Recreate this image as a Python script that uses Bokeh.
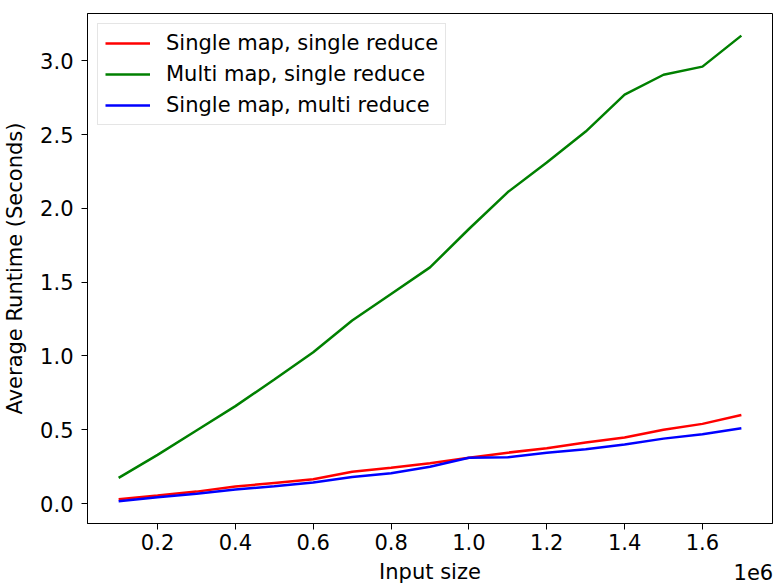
from bokeh.plotting import figure
from bokeh.models import (FixedTicker, PrintfTickFormatter, CustomJSTickFormatter, Range1d,
                          Legend, LegendItem, LinearAxis)
from bokeh.embed import file_html
from bokeh.resources import INLINE

input_size = [100000, 200000, 300000, 400000, 500000, 600000, 700000, 800000, 900000,
              1000000, 1100000, 1200000, 1300000, 1400000, 1500000, 1600000, 1700000]
single_map_single_reduce = [0.030, 0.054, 0.081, 0.115, 0.140, 0.165, 0.215, 0.242, 0.273,
                            0.310, 0.345, 0.375, 0.413, 0.447, 0.500, 0.540, 0.600]
multi_map_single_reduce = [0.174, 0.330, 0.495, 0.660, 0.840, 1.025, 1.240, 1.420, 1.600,
                           1.860, 2.110, 2.310, 2.520, 2.770, 2.905, 2.960, 3.170]
single_map_multi_reduce = [0.016, 0.043, 0.066, 0.095, 0.117, 0.142, 0.180, 0.205, 0.250,
                           0.310, 0.314, 0.345, 0.368, 0.400, 0.440, 0.470, 0.510]

x_ticks = [200000, 400000, 600000, 800000, 1000000, 1200000, 1400000, 1600000]
y_ticks = [0.0, 0.5, 1.0, 1.5, 2.0, 2.5, 3.0]
offset_text = "1e6"
offset_pos = [1731000]

FONT = "DejaVu Sans"
FS = "21px"

p = figure(width=775, height=587, output_backend="svg", toolbar_location=None,
           x_range=Range1d(20000, 1780000), y_range=Range1d(-0.135, 3.32),
           min_border_left=87, min_border_right=3, min_border_top=13, min_border_bottom=64)

p.background_fill_color = "white"
p.border_fill_color = "white"
p.outline_line_color = "black"
p.outline_line_width = 1
p.xgrid.visible = False
p.ygrid.visible = False

r1 = p.line(input_size, single_map_single_reduce, line_color="red", line_width=2.5)
r2 = p.line(input_size, multi_map_single_reduce, line_color="green", line_width=2.5)
r3 = p.line(input_size, single_map_multi_reduce, line_color="blue", line_width=2.5)

legend = Legend(items=[
    LegendItem(label="Single map, single reduce", renderers=[r1]),
    LegendItem(label="Multi map, single reduce", renderers=[r2]),
    LegendItem(label="Single map, multi reduce", renderers=[r3]),
], location="top_left")
legend.margin = 10
legend.padding = 7
legend.spacing = 7
legend.glyph_width = 45
legend.glyph_height = 22
legend.label_standoff = 16
legend.label_text_font = FONT
legend.label_text_font_size = FS
legend.label_text_color = "black"
legend.border_line_color = "#cccccc"
legend.border_line_width = 1
legend.background_fill_color = "white"
legend.background_fill_alpha = 0.8
p.add_layout(legend)

for ax in (p.xaxis[0], p.yaxis[0]):
    ax.axis_line_color = "black"
    ax.major_tick_line_color = "black"
    ax.major_tick_out = 6
    ax.major_tick_in = 0
    ax.minor_tick_line_color = None
    ax.major_label_text_font = FONT
    ax.major_label_text_font_size = FS
    ax.major_label_text_color = "black"
    ax.axis_label_text_font = FONT
    ax.axis_label_text_font_size = FS
    ax.axis_label_text_font_style = "normal"
    ax.axis_label_text_color = "black"

p.xaxis.ticker = FixedTicker(ticks=x_ticks)
p.xaxis.formatter = CustomJSTickFormatter(code="return (tick/1e6).toFixed(1);")
p.xaxis.major_label_standoff = 4

p.yaxis.ticker = FixedTicker(ticks=y_ticks)
p.yaxis.formatter = PrintfTickFormatter(format="%.1f")
p.yaxis.axis_label = "Average Runtime (Seconds)"
p.yaxis.major_label_standoff = 8
p.yaxis.axis_label_standoff = 10

# second axis below: carries the "1e6" offset text and the "Input size" label on one row
ax2 = LinearAxis(ticker=FixedTicker(ticks=offset_pos), axis_line_color=None,
                 major_tick_line_color=None, minor_tick_line_color=None,
                 major_tick_out=0, major_tick_in=0, major_label_standoff=11,
                 formatter=CustomJSTickFormatter(code="return '%s';" % offset_text),
                 major_label_text_font=FONT, major_label_text_font_size=FS,
                 major_label_text_color="black",
                 axis_label="Input size", axis_label_standoff=-23,
                 axis_label_text_font=FONT, axis_label_text_font_size=FS,
                 axis_label_text_font_style="normal", axis_label_text_color="black")
p.add_layout(ax2, "below")

open("out.html", "w").write(file_html(p, INLINE))
